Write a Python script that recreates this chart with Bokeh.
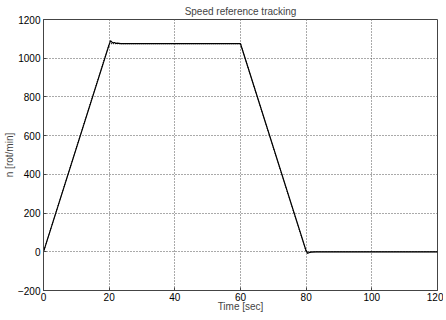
from bokeh.plotting import figure
from bokeh.models import FixedTicker, Range1d
from bokeh.embed import file_html
from bokeh.resources import INLINE

# reference speed profile
ref_t = [0, 20, 60, 80, 120]
ref_n = [0, 1075, 1075, 0, 0]

# measured speed
act_t = [0, 20.0, 20.4, 20.8, 21.2, 21.6, 22.0, 22.5, 23.5, 60.0, 80.0, 80.4, 80.8, 81.5, 83.0, 120.0]
act_n = [0, 1070, 1090, 1084, 1079, 1081, 1077, 1078, 1075, 1075, 5, -8, -5, -2, 0, 0]

x_ticks = [0, 20, 40, 60, 80, 100, 120]
y_ticks = [-200, 0, 200, 400, 600, 800, 1000, 1200]

FONT = "Liberation Sans"

p = figure(frame_width=394, frame_height=271, output_backend="svg", toolbar_location=None,
           x_range=Range1d(0, 120), y_range=Range1d(-200, 1200),
           title="Speed reference tracking",
           min_border_left=38, min_border_right=6, min_border_bottom=5, min_border_top=0)

p.title.align = "center"
p.title.text_font = FONT
p.title.text_font_size = "10px"
p.title.text_font_style = "normal"
p.title.standoff = 6
p.title.offset = 0

p.line(ref_t, ref_n, line_color="black", line_width=1, line_dash="1 1")
p.line(act_t, act_n, line_color="black", line_width=1.2)

for ax in (p.xaxis[0], p.yaxis[0]):
    ax.major_label_text_font = FONT
    ax.major_label_text_font_size = "10px"
    ax.axis_label_text_font = FONT
    ax.axis_label_text_font_size = "10px"
    ax.axis_label_text_font_style = "normal"
    ax.major_tick_in = 3
    ax.major_tick_out = 0
    ax.minor_tick_line_color = None
    ax.axis_line_color = "#444444"
    ax.major_tick_line_color = "#444444"
    ax.major_label_text_color = "black"

p.xaxis[0].ticker = FixedTicker(ticks=x_ticks)
p.yaxis[0].ticker = FixedTicker(ticks=y_ticks)
p.xaxis[0].axis_label = "Time [sec]"
p.yaxis[0].axis_label = "n [rot/min]"
p.xaxis[0].major_label_standoff = 2
p.xaxis[0].axis_label_standoff = -3
p.yaxis[0].major_label_standoff = 3
p.yaxis[0].axis_label_standoff = 0

p.grid.grid_line_color = "#555555"
p.grid.grid_line_dash = "1 2"
p.grid.grid_line_width = 1
p.outline_line_color = "#444444"
p.background_fill_color = "white"
p.border_fill_color = "white"

open("out.html", "w").write(file_html(p, INLINE))
